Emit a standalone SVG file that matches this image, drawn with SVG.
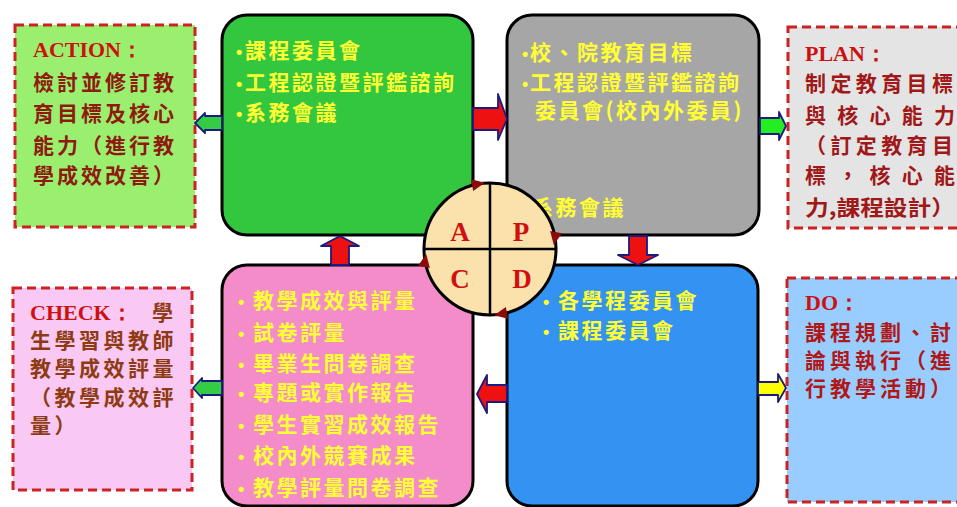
<svg xmlns="http://www.w3.org/2000/svg" width="957" height="507" viewBox="0 0 957 507">
<style>
.main{stroke:#000;stroke-width:3}
.note{stroke:#CC2222;stroke-width:3;stroke-dasharray:9 5}
.yt{font-family:"Noto Sans CJK TC","Noto Sans CJK SC",sans-serif;font-weight:bold;font-size:21px;fill:#FFFF33;letter-spacing:2.5px}
.bul{font-family:"Liberation Sans",Arial,sans-serif;font-size:18px;letter-spacing:0}
.title{font-family:"Liberation Serif",serif;font-weight:bold;font-size:22px;fill:#CC1111}
.nt{font-family:"Noto Sans CJK TC","Noto Sans CJK SC",sans-serif;font-weight:bold;font-size:21px}
.ltr{font-family:"Liberation Serif",serif;font-weight:bold;font-size:27px;fill:#D01010;text-anchor:middle}
.arr{stroke:#1A1A80;stroke-width:1.8;stroke-linejoin:round}
.tri{fill:#8B0A0A}
</style>
<rect width="957" height="507" fill="#FFFFFF"/>

<g id="action">
<rect class="note" x="15" y="25" width="180" height="202" fill="#9AF06E"/>
<text class="title" x="33" y="57">ACTION：</text>
<g class="nt" fill="#8E1A10" letter-spacing="3">
<text x="33" y="90">檢討並修訂教</text>
<text x="33" y="121">育目標及核心</text>
<text x="33" y="153">能力（進行教</text>
<text x="33" y="183">學成效改善）</text>
</g>
</g>

<g id="plan">
<rect class="note" x="788" y="27" width="180" height="201" fill="#E4E4E4"/>
<text class="title" x="805" y="61">PLAN：</text>
<g class="nt" fill="#A01818">
<text x="805" y="91" textLength="148" lengthAdjust="spacing">制定教育目標</text>
<text x="805" y="123" textLength="150" lengthAdjust="spacing">與核心能力</text>
<text x="805" y="153" textLength="148" lengthAdjust="spacing">（訂定教育目</text>
<text x="805" y="183" textLength="150" lengthAdjust="spacing">標，核心能</text>
<text x="805" y="215" textLength="150" lengthAdjust="spacingAndGlyphs">力,課程設計）</text>
</g>
</g>

<g id="check">
<rect class="note" x="13" y="288" width="179" height="202" fill="#F9C8F3"/>
<text x="30" y="320"><tspan class="title">CHECK：</tspan><tspan class="nt" fill="#8E3A12" x="152">學</tspan></text>
<g class="nt" fill="#8E3A12" letter-spacing="3.5">
<text x="30" y="348">生學習與教師</text>
<text x="30" y="376">教學成效評量</text>
<text x="30" y="405">（教學成效評</text>
<text x="30" y="433">量）</text>
</g>
</g>

<g id="do">
<rect class="note" x="787" y="278" width="180" height="224" fill="#99CCFF"/>
<text class="title" x="805" y="310">DO：</text>
<g class="nt" fill="#B01818" letter-spacing="4">
<text x="805" y="340">課程規劃、討</text>
<text x="805" y="368">論與執行（進</text>
<text x="805" y="396">行教學活動）</text>
</g>
</g>

<g id="box-a">
<rect class="main" x="222" y="15" width="251" height="220" rx="25" fill="#33C740"/>
<g class="yt">
<text x="236" y="58"><tspan class="bul">•</tspan><tspan x="245">課程委員會</tspan></text>
<text x="236" y="90"><tspan class="bul">•</tspan><tspan x="245">工程認證暨評鑑諮詢</tspan></text>
<text x="236" y="120"><tspan class="bul">•</tspan><tspan x="245">系務會議</tspan></text>
</g>
</g>

<g id="box-p">
<rect class="main" x="507" y="15" width="252" height="220" rx="25" fill="#A6A6A6"/>
<g class="yt">
<text x="522" y="60"><tspan class="bul">•</tspan><tspan x="530">校、院教育目標</tspan></text>
<text x="522" y="90"><tspan class="bul">•</tspan><tspan x="530">工程認證暨評鑑諮詢</tspan></text>
<text x="535" y="118">委員會(校內外委員)</text>
<text x="532" y="215">系務會議</text>
</g>
</g>

<g id="box-c">
<rect class="main" x="222" y="265" width="251" height="241" rx="25" fill="#F38CC8"/>
<g class="yt" letter-spacing="3">
<text x="238" y="308"><tspan class="bul">•</tspan><tspan x="253">教學成效與評量</tspan></text>
<text x="238" y="340"><tspan class="bul">•</tspan><tspan x="253">試卷評量</tspan></text>
<text x="238" y="371"><tspan class="bul">•</tspan><tspan x="253">畢業生問卷調查</tspan></text>
<text x="238" y="400"><tspan class="bul">•</tspan><tspan x="253">專題或實作報告</tspan></text>
<text x="238" y="432"><tspan class="bul">•</tspan><tspan x="253">學生實習成效報告</tspan></text>
<text x="238" y="463"><tspan class="bul">•</tspan><tspan x="253">校內外競賽成果</tspan></text>
<text x="238" y="495"><tspan class="bul">•</tspan><tspan x="253">教學評量問卷調查</tspan></text>
</g>
</g>

<g id="box-d">
<rect class="main" x="507" y="265" width="251" height="241" rx="25" fill="#3392F2"/>
<g class="yt" letter-spacing="3">
<text x="543" y="308"><tspan class="bul">•</tspan><tspan x="558">各學程委員會</tspan></text>
<text x="543" y="338"><tspan class="bul">•</tspan><tspan x="558">課程委員會</tspan></text>
</g>
</g>

<g id="connectors">
<polygon class="arr" fill="#EE1111" points="473,108 498,108 498,94 507,119 498,140 498,130 473,130"/>
<polygon class="arr" fill="#EE1111" points="629,236 647,236 647,255 658,255 638,265 618,255 629,255"/>
<polygon class="arr" fill="#EE1111" points="507,385 487,385 487,375 477,394 487,413 487,402 507,402"/>
<polygon class="arr" fill="#EE1111" points="331,265 331,246 321,246 340,236 359,246 349,246 349,265"/>
<polygon class="arr" fill="#33CC44" points="222,116 205,116 205,113 195,123 205,133 205,130 222,130"/>
<polygon class="arr" fill="#22EE22" points="760,118 779,118 779,112 786,126 779,140 779,134 760,134"/>
<polygon class="arr" fill="#FFFF00" points="758,382 778,382 778,374 786,388 778,402 778,395 758,395"/>
<polygon class="arr" fill="#33CC44" points="222,381 202,381 202,378 193,388 202,398 202,395 222,395"/>
</g>

<g id="pdca">
<circle cx="490" cy="249" r="66" fill="#FBE2AC" stroke="#000" stroke-width="3"/>
<line x1="490" y1="183" x2="490" y2="315" stroke="#000" stroke-width="2.5"/>
<line x1="424" y1="249" x2="556" y2="249" stroke="#000" stroke-width="2.5"/>
<text class="ltr" x="460" y="241">A</text>
<text class="ltr" x="521" y="241">P</text>
<text class="ltr" x="460" y="288">C</text>
<text class="ltr" x="522" y="288">D</text>
<polygon class="tri" transform="translate(478,184) rotate(-10)" points="-6,-6 7,0 -6,6"/>
<polygon class="tri" transform="translate(555,238) rotate(100)" points="-6,-6 7,0 -6,6"/>
<polygon class="tri" transform="translate(501,314) rotate(170)" points="-6,-6 7,0 -6,6"/>
<polygon class="tri" transform="translate(425,261) rotate(-80)" points="-6,-6 7,0 -6,6"/>
</g>
</svg>
